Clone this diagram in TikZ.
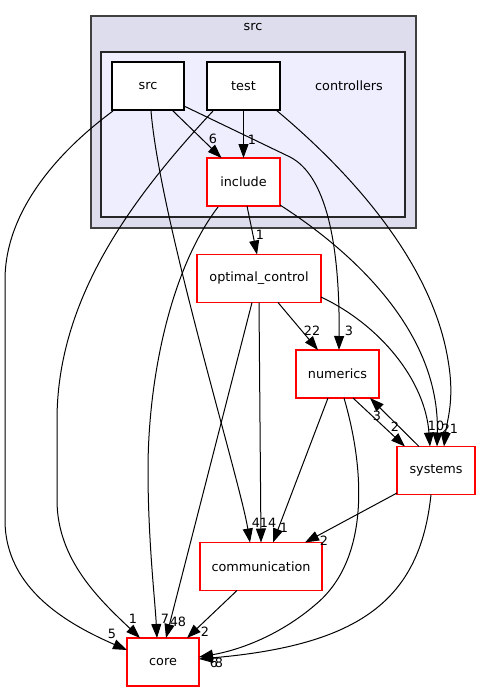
\documentclass[tikz,border=0pt]{standalone}
\usepackage{fontspec}
\setmainfont{DejaVu Sans}
\usetikzlibrary{arrows.meta, calc}
\definecolor{dirouter}{HTML}{DDDDEE}
\definecolor{dirinner}{HTML}{EEEEFF}

\begin{document}
\begin{tikzpicture}[
        x=0.75pt, y=-0.75pt,
        font=\fontsize{9.6pt}{11pt}\selectfont,
        box/.style={rectangle, draw, line width=0.9pt, fill=white, minimum height=36pt, inner sep=0pt},
        redbox/.style={box, draw=red},
        arrow/.style={-{Triangle[length=10.5pt, width=7.5pt]}, line width=0.75pt},
        num/.style={inner sep=0pt}
    ]
        \useasboundingbox (0,0) rectangle (480,692);
        \draw[line width=1.1pt, draw=black!75, fill=dirouter] (91,16) rectangle (416,228);
        \draw[line width=1pt, draw=black!85, fill=dirinner] (101,52) rectangle (405,217);
        \node (srclabel) at (253,27) {src};
        \node (ctrllabel) at (349,86) {controllers};

        \node[box, minimum width=54pt] (src) at (148,86) {src};
        \node[box, minimum width=54.75pt] (test) at (243.5,86) {test};
        \node[redbox, minimum width=54.75pt] (include) at (243.5,182) {include};
        \node[redbox, minimum width=93pt] (optimal) at (259,278.5) {optimal\_control};
        \node[redbox, minimum width=62.25pt] (numerics) at (337.5,374) {numerics};
        \node[redbox, minimum width=58.5pt] (systems) at (436,470.5) {systems};
        \node[redbox, minimum width=91.5pt] (communication) at (261,566.5) {communication};
        \node[redbox, minimum width=54pt] (core) at (163,662) {core};

        \draw[arrow] ($(src)+(24,24)$) -- ($(include)+(-22,-24)$);
        \draw[arrow] ($(test)+(0,24)$) -- ($(include)+(0,-24)$);
        \draw[arrow] ($(src)+(36,20)$) -- (290,157) .. controls (325,175) and (340,240) .. ($(numerics)+(1.5,-24)$);
        \draw[arrow] ($(test)+(32.5,24)$) .. controls (330,155) and (430,250) .. (448,360) .. controls (455,400) and (447,420) .. ($(systems)+(8,-24)$);
        \draw[arrow] ($(include)+(36.5,23)$) .. controls (350,250) and (440,330) .. ($(systems)+(1,-24)$);
        \draw[arrow] ($(optimal)+(62,18.5)$) .. controls (380,325) and (425,380) .. ($(systems)+(-6,-24)$);
        \draw[arrow] ($(src)+(-35,25)$) .. controls (60,150) and (5,210) .. (5,280) -- (5,520) .. controls (5,590) and (70,625) .. ($(core)+(-36,-12)$);
        \draw[arrow] ($(test)+(-30.5,25)$) .. controls (130,200) and (57,300) .. (57,420) -- (57,500) .. controls (57,560) and (100,600) .. ($(core)+(-23,-24)$);
        \draw[arrow] ($(include)+(-25.5,25)$) .. controls (170,270) and (148,380) .. (148,470) .. controls (148,540) and (155,600) .. ($(core)+(-6,-24)$);
        \draw[arrow] ($(src)+(3,25)$) .. controls (160,220) and (240,480) .. ($(communication)+(-11,-24)$);
        \draw[arrow] ($(include)+(3.5,24)$) -- ($(optimal)+(-2,-24)$);
        \draw[arrow] ($(optimal)+(-7,24)$) -- ($(core)+(3,-24)$);
        \draw[arrow] ($(optimal)+(0,24)$) -- ($(communication)+(0,-24)$);
        \draw[arrow] ($(optimal)+(19,24)$) -- ($(numerics)+(-19.5,-24)$);
        \draw[arrow] ($(numerics)+(-9.5,24)$) -- ($(communication)+(12,-24)$);
        \draw[arrow] ($(numerics)+(6.5,24)$) .. controls (365,470) and (370,560) .. (315,605) .. controls (280,635) and (240,650) .. ($(core)+(36,-5)$);
        \draw[arrow] ($(systems)+(-5,24)$) .. controls (420,600) and (360,645) .. ($(core)+(36,-3)$);
        \draw[arrow] ($(numerics)+(15.5,24)$) -- ($(systems)+(-31,-24)$);
        \draw[arrow] ($(systems)+(-17,-24)$) -- ($(numerics)+(32.5,24)$);
        \draw[arrow] ($(systems)+(-39,22.5)$) -- ($(communication)+(44,-24)$);
        \draw[arrow] ($(communication)+(-24,24)$) -- ($(core)+(24,-24)$);

        \node[num] (lsrcinc) at (213,139) {6};
        \node[num] (ltestinc) at (252,140) {1};
        \node[num] (lsrcnum) at (349,331) {3};
        \node[num] (lincopt) at (260,235) {1};
        \node[num] (loptnum) at (312,331) {22};
        \node[num] (loptsys) at (436,426) {10};
        \node[num] (lincsys) at (446,429) {2};
        \node[num] (ltestsys) at (454,429) {1};
        \node[num] (lsysnum) at (377,416) {3};
        \node[num] (lnumsys) at (395,427) {2};
        \node[num] (lsrccom) at (256,523) {4};
        \node[num] (loptcom) at (268,523) {14};
        \node[num] (lnumcom) at (284,528) {1};
        \node[num] (lsyscom) at (324,541) {2};
        \node[num] (ltestcore) at (133,619) {1};
        \node[num] (lsrccore) at (112,634) {5};
        \node[num] (linccore) at (165,619) {7};
        \node[num] (loptcore) at (178,622) {48};
        \node[num] (lcomcore) at (205,632) {2};
        \node[num] (lnumcore) at (214,663) {6};
        \node[num] (lsyscore) at (219,663) {8};
    \end{tikzpicture}
\end{document}
